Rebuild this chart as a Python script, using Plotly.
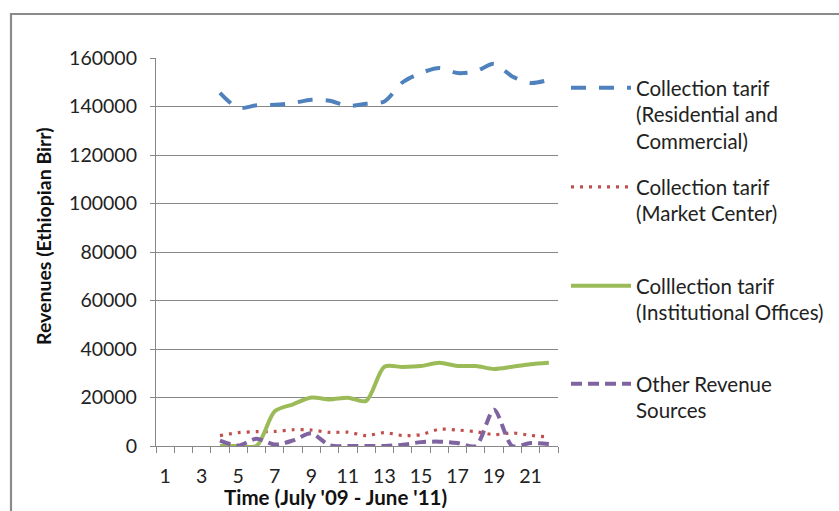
import plotly.graph_objects as go

# Months 1..22 (July '09 - June '11); revenue series start in month 4
months = list(range(1, 23))
tick_months = list(range(1, 22, 2))

residential = [None, None, None, 145600, 139400, 140500, 140700, 141400, 142800, 142400,
               140300, 141100, 142100, 150000, 153800, 155900, 153800, 154500, 157600,
               152400, 149700, 151000]
market = [None, None, None, 4300, 5500, 5900, 6000, 6700, 6600, 5600, 5700, 4300, 5500,
          4300, 4700, 6900, 6600, 5900, 4700, 5400, 4400, 3700]
institutional = [None, None, None, 0, 0, 0, 14300, 17200, 20000, 19200, 19900, 18600,
                 32700, 32600, 33000, 34300, 33000, 33000, 31800, 32700, 33700, 34300]
other = [None, None, None, 2200, 200, 3000, 600, 2300, 5200, 300, 0, 0, 0, 500, 1600,
         1800, 1200, 0, 15000, 0, 1200, 800]

names = [
    "Collection tarif<br>(Residential and<br>Commercial)",
    "Collection tarif<br>(Market Center)",
    "Colllection tarif<br>(Institutional Offices)",
    "Other Revenue<br>Sources",
]

FONT = "Lato, 'Open Sans', sans-serif"
GRID = "#878787"
TEXT = "#222222"

fig = go.Figure()

styles = [
    (residential, "#4F81BD", 4, "15px,13px", "legend"),
    (market, "#C0504D", 3.2, "3px,6px", "legend2"),
    (institutional, "#9BBB59", 4, "solid", "legend3"),
    (other, "#8064A2", 4, "11px,6px", "legend4"),
]
for (vals, color, width, dash, leg), name in zip(styles, names):
    fig.add_trace(go.Scatter(
        x=months, y=vals, name=name, mode="lines",
        line=dict(color=color, width=width, dash=dash, shape="spline", smoothing=0.8),
        connectgaps=False, legend=leg,
    ))

# plot area spans px 156..558 horizontally and 58..446 vertically
def py(px):
    return (446 - px) / 388.0

def pxx(px):
    return (px - 156) / 402.0

legend_common = dict(
    xanchor="left", yanchor="top", valign="top", bgcolor="rgba(0,0,0,0)",
    font=dict(family=FONT, size=20.5, color=TEXT), itemwidth=60,
    traceorder="normal", tracegroupgap=0,
)
legend_tops = [68, 167, 266, 364]
layout_legends = {}
for i, top in enumerate(legend_tops):
    key = "legend" if i == 0 else f"legend{i + 1}"
    layout_legends[key] = dict(x=pxx(566), y=py(top), **legend_common)

fig.update_layout(
    width=839, height=511,
    margin=dict(l=156, r=281, t=58, b=65, autoexpand=False),
    paper_bgcolor="white", plot_bgcolor="white",
    font=dict(family=FONT, size=19.5, color=TEXT),
    showlegend=True,
    **layout_legends,
    xaxis=dict(
        range=[0.5, 22.5], tickmode="array", tickvals=tick_months,
        ticktext=[str(m) for m in tick_months],
        ticks="", showgrid=False, zeroline=False,
        showline=True, linecolor=GRID, linewidth=1.3,
        ticklabelstandoff=12,
        tickfont=dict(family=FONT, size=19.5, color=TEXT),
        minor=dict(tickmode="array", tickvals=[m + 0.5 for m in [0] + months],
                   ticks="outside", ticklen=6, tickcolor=GRID, tickwidth=1.2,
                   showgrid=False),
    ),
    yaxis=dict(
        range=[0, 160000], tickmode="linear", tick0=0, dtick=20000,
        tickformat="d", ticks="outside", ticklen=5, tickcolor=GRID, tickwidth=1.2,
        showgrid=True, gridcolor=GRID, gridwidth=1.2, zeroline=False,
        showline=True, linecolor=GRID, linewidth=1.3,
        ticklabelstandoff=9,
        tickfont=dict(family=FONT, size=19.5, color=TEXT),
    ),
    annotations=[
        dict(text="<b>Revenues (Ethiopian Birr)</b>", textangle=-90,
             xref="paper", yref="paper", x=pxx(43), y=py(236),
             xanchor="center", yanchor="middle", showarrow=False,
             font=dict(family=FONT, size=19.5, color="#111111")),
        dict(text="<b>Time (July '09 - June '11)</b>",
             xref="paper", yref="paper", x=pxx(335), y=py(497),
             xanchor="center", yanchor="middle", showarrow=False,
             font=dict(family=FONT, size=20.5, color="#111111")),
    ],
    shapes=[dict(type="rect", xref="paper", yref="paper",
                 x0=pxx(11), x1=pxx(850), y0=py(14), y1=py(530),
                 line=dict(color="#8A8A8A", width=2.2), layer="below")],
)

fig.write_html("out.html")
